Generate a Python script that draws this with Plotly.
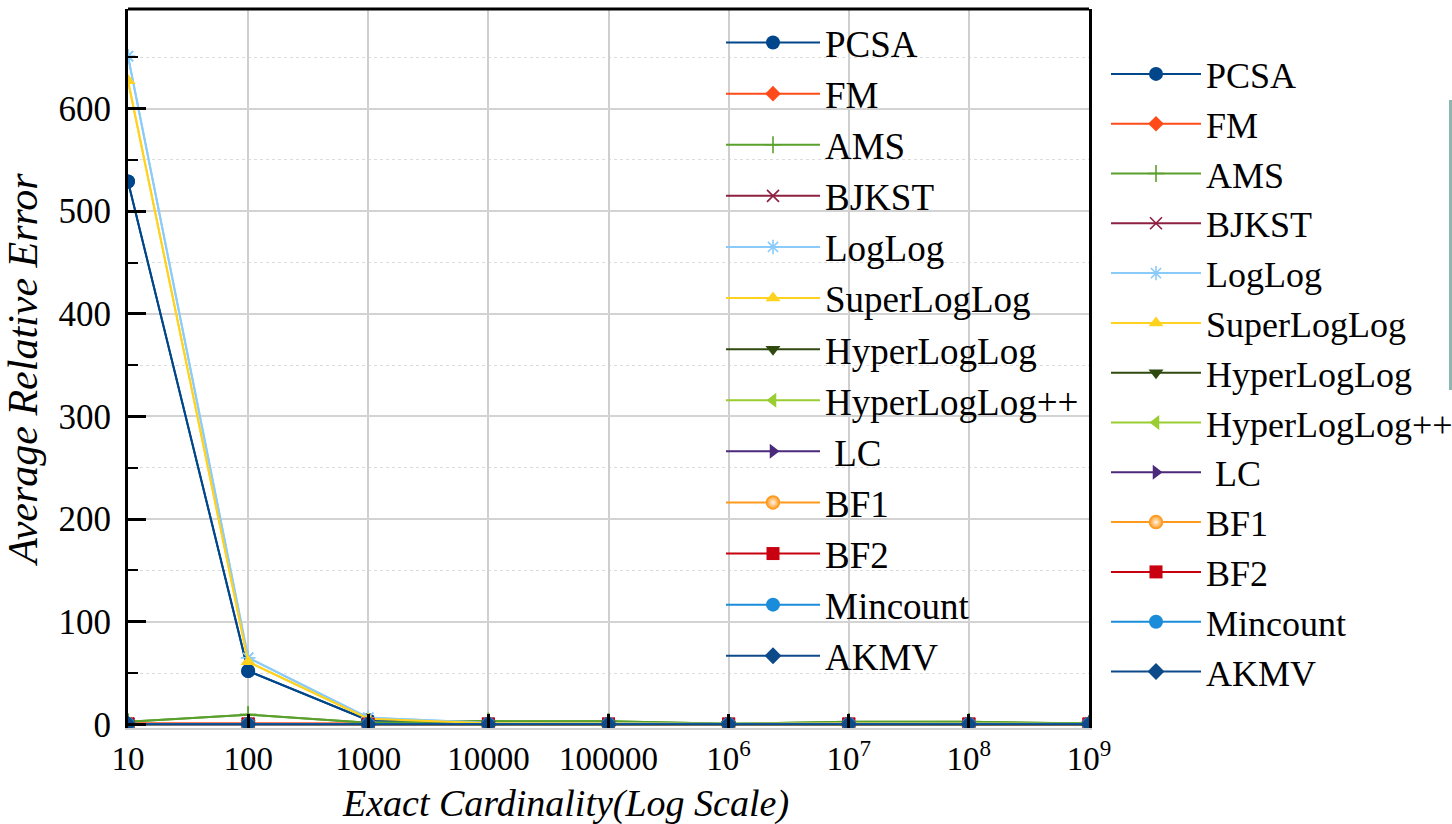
import plotly.graph_objects as go

# ---------------- data ----------------
cardinality = [10, 100, 1000, 10000, 100000, 1e6, 1e7, 1e8, 1e9]
x_tick_labels = ["10", "100", "1000", "10000", "100000",
                 "10<sup>6</sup>", "10<sup>7</sup>", "10<sup>8</sup>", "10<sup>9</sup>"]
y_tick_values = [0, 100, 200, 300, 400, 500, 600]

pcsa        = [529, 52, 4.0, 0.6, 0.5, 0.3, 0.5, 0.5, 0.3]
fm          = [0.9, 0.8, 0.9, 0.7, 0.7, 0.3, 0.6, 0.6, 0.4]
ams         = [2.5, 9.5, 1.5, 3.2, 3.0, 0.6, 2.6, 2.6, 1.0]
bjkst       = [0.5, 0.4, 0.3, 0.3, 0.3, 0.2, 0.3, 0.3, 0.2]
loglog      = [651, 65, 6.5, 1.5, 1.2, 0.4, 1.0, 1.0, 0.4]
superloglog = [627, 61, 5.5, 1.2, 1.0, 0.4, 0.9, 0.9, 0.4]
hll         = [0.3, 0.3, 0.3, 0.2, 0.2, 0.2, 0.2, 0.2, 0.2]
hllpp       = [0.3, 0.3, 0.3, 0.2, 0.2, 0.2, 0.2, 0.2, 0.2]
lc          = [0.2, 0.2, 0.2, 0.2, 0.2, 0.2, 0.2, 0.2, 0.2]
bf1         = [0.2, 0.2, 0.2, 0.2, 0.2, 0.2, 0.2, 0.2, 0.2]
bf2         = [0.3, 0.3, 0.3, 0.3, 0.3, 0.3, 0.3, 0.3, 0.3]
mincount    = [0.5, 0.5, 0.5, 0.4, 0.4, 0.3, 0.4, 0.4, 0.3]
akmv        = [0.2, 0.2, 0.2, 0.2, 0.2, 0.2, 0.2, 0.2, 0.2]

series_names = ["PCSA", "FM", "AMS", "BJKST", "LogLog", "SuperLogLog", "HyperLogLog",
                "HyperLogLog++", " LC", "BF1", "BF2", "Mincount", "AKMV"]
series_values = [pcsa, fm, ams, bjkst, loglog, superloglog, hll, hllpp, lc, bf1, bf2,
                 mincount, akmv]

x_title = "Exact Cardinality(Log Scale)"
y_title = "Average Relative Error"

# ---------------- styles ----------------
styles = {
    "PCSA":          dict(color="#00468B", symbol="circle", size=14),
    "FM":            dict(color="#FF4A1A", symbol="diamond", size=12),
    "AMS":           dict(color="#5AA02C", symbol="cross-thin", size=12),
    "BJKST":         dict(color="#8E1F41", symbol="x-thin", size=12),
    "LogLog":        dict(color="#8ACBFA", symbol="asterisk", size=12),
    "SuperLogLog":   dict(color="#FFD21F", symbol="triangle-up", size=13),
    "HyperLogLog":   dict(color="#2F4A0E", symbol="triangle-down", size=13),
    "HyperLogLog++": dict(color="#9ACD32", symbol="triangle-left", size=13),
    " LC":           dict(color="#4B2A7B", symbol="triangle-right", size=13),
    "BF1":           dict(color="#FF9A1F", symbol="circle", size=13),
    "BF2":           dict(color="#C8000F", symbol="square", size=13),
    "Mincount":      dict(color="#1A8CDA", symbol="circle", size=14),
    "AKMV":          dict(color="#0D4A8A", symbol="diamond", size=13),
}

W, H = 1452, 824
ML, MR, MT, MB = 128, 0, 9, 96
PW, PH = W - ML - MR, H - MT - MB
PLOT_RIGHT = 1089


def px_x(p):
    return (p - ML) / PW


def px_y(p):
    return (H - MB - p) / PH


fig = go.Figure()


def marker_for(name):
    st = styles[name]
    m = dict(symbol=st["symbol"], size=st["size"], color=st["color"])
    if st["symbol"] in ("cross-thin", "x-thin", "asterisk"):
        m["line"] = dict(color=st["color"], width=1.6)
    if name == "BF1":
        m["gradient"] = dict(type="radial", color="#FFF4E6")
        m["line"] = dict(color="#FF9A1F", width=1.5)
    return m


for legend_id in ("legend", "legend2"):
    for name, vals in zip(series_names, series_values):
        st = styles[name]
        fig.add_trace(go.Scatter(
            x=cardinality, y=vals, name=name, mode="lines+markers",
            line=dict(color=st["color"], width=2),
            marker=marker_for(name),
            legend=legend_id, xaxis="x", yaxis="y",
        ))

font_family = "Liberation Serif, Times New Roman, serif"
ITEM_W = 94

fig.update_layout(
    width=W, height=H,
    margin=dict(l=ML, r=MR, t=MT, b=MB, pad=0, autoexpand=False),
    paper_bgcolor="white", plot_bgcolor="white",
    font=dict(family=font_family, color="black", size=34),
    showlegend=True,
    xaxis=dict(
        type="log", domain=[0, px_x(PLOT_RIGHT)],
        range=[1, 9], automargin=False,
        tickvals=cardinality, ticktext=x_tick_labels,
        ticks="inside", ticklen=14, tickwidth=3, tickcolor="black",
        showgrid=True, gridcolor="#cfcfcf", gridwidth=1.5,
        showline=True, linecolor="#d0d0d0", linewidth=2,
        zeroline=False,
        tickfont=dict(size=33),
        anchor="y",
    ),
    yaxis=dict(
        domain=[0, 1], range=[-3.5, 697], automargin=False,
        tickvals=y_tick_values,
        ticks="inside", ticklen=18, tickwidth=3, tickcolor="black",
        ticklabelstandoff=7,
        showgrid=True, gridcolor="#d3d3d3", gridwidth=1.5,
        minor=dict(dtick=50, tick0=0, ticks="inside", ticklen=10, tickwidth=2,
                   tickcolor="black", showgrid=True, gridcolor="#dcdcdc",
                   griddash="dot", gridwidth=1),
        showline=True, linecolor="black", linewidth=3, mirror=True,
        zeroline=False,
        tickfont=dict(size=35),
        title=dict(text="<i>" + y_title + "</i>", font=dict(size=42), standoff=10),
        anchor="x",
    ),
    # decorative grid behind the second (pasted) legend
    xaxis2=dict(
        domain=[px_x(1092), 1], range=[1092, 1452], automargin=False,
        tickvals=[1113, 1227, 1340], showticklabels=False, ticks="",
        showgrid=True, gridcolor="#d4d4d4", gridwidth=1.5,
        showline=False, zeroline=False, anchor="y2", fixedrange=True,
    ),
    yaxis2=dict(
        domain=[px_y(720), px_y(46)], range=[720, 46], automargin=False,
        tickvals=[138, 241, 343, 447, 549, 652], showticklabels=False, ticks="",
        showgrid=True, gridcolor="#dcdcdc", gridwidth=1.5,
        minor=dict(tickvals=[87, 191, 292, 395, 498, 601, 703], showgrid=True,
                   gridcolor="#e2e2e2", griddash="dot", gridwidth=1),
        showline=False, zeroline=False, anchor="x2", fixedrange=True,
    ),
    legend=dict(
        x=px_x(721), y=px_y(12), xanchor="left", yanchor="top",
        bgcolor="rgba(0,0,0,0)", borderwidth=0,
        font=dict(size=37, family=font_family, color="black"),
        itemwidth=ITEM_W, tracegroupgap=0,
    ),
    legend2=dict(
        x=px_x(1106), y=px_y(44), xanchor="left", yanchor="top",
        bgcolor="rgba(0,0,0,0)", borderwidth=0,
        font=dict(size=36, family=font_family, color="black"),
        itemwidth=ITEM_W - 4, tracegroupgap=0,
    ),
    annotations=[
        dict(text="<i>" + x_title + "</i>", xref="paper", yref="paper",
             x=px_x(565), y=px_y(803), xanchor="center", yanchor="middle",
             showarrow=False, font=dict(size=38, family=font_family, color="black")),
    ],
    shapes=[
        dict(type="line", xref="x domain", yref="y domain", x0=0, x1=1, y0=1, y1=1,
             line=dict(color="black", width=3)),
        dict(type="rect", xref="paper", yref="paper", x0=px_x(1449), x1=px_x(1452),
             y0=px_y(390), y1=px_y(100), fillcolor="#8fb5b0", line=dict(width=0),
             layer="above"),
    ],
)

fig.write_html("out.html")
